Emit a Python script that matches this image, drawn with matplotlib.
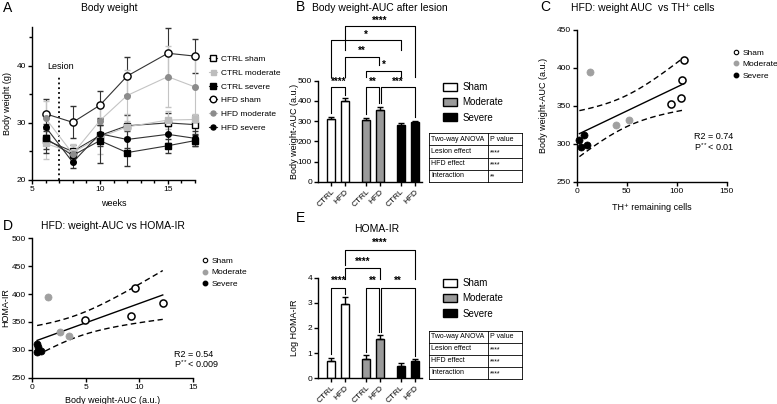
import numpy as np
import matplotlib
matplotlib.use("Agg")
import matplotlib.pyplot as plt
from matplotlib.lines import Line2D
from matplotlib.patches import Patch

plt.rcParams['font.family'] = ['Liberation Sans', 'DejaVu Sans']
plt.rcParams['mathtext.fontset'] = 'custom'
plt.rcParams['mathtext.rm'] = 'Liberation Sans'
plt.rcParams['axes.linewidth'] = 1.0

# ---------------- data ----------------
weeks = [6, 8, 10, 12, 15, 17]
ctrl_sham = [27.0, 25.0, 27.8, 29.5, 30.0, 29.7]
ctrl_sham_err = [1.5, 1.2, 1.8, 1.9, 1.7, 1.6]
ctrl_moderate = [26.4, 24.8, 27.5, 29.3, 30.5, 30.6]
ctrl_moderate_err = [2.8, 1.5, 3.0, 2.2, 1.6, 0.9]
ctrl_severe = [27.3, 24.3, 26.9, 24.8, 26.0, 26.9]
ctrl_severe_err = [2.5, 1.2, 3.9, 2.4, 1.2, 1.0]
hfd_sham = [31.6, 30.1, 33.1, 38.2, 42.2, 41.7]
hfd_sham_err = [2.6, 2.8, 2.5, 3.3, 4.4, 3.0]
hfd_moderate = [30.8, 24.6, 30.4, 34.8, 38.1, 36.3]
hfd_moderate_err = [3.0, 1.5, 3.0, 4.5, 5.3, 5.0]
hfd_severe = [29.3, 23.1, 28.1, 27.1, 28.0, 27.3]
hfd_severe_err = [1.5, 1.0, 1.5, 1.5, 1.5, 1.3]
lesion_week = 7

bar_labels = ['CTRL', 'HFD', 'CTRL', 'HFD', 'CTRL', 'HFD']
lesion_groups = ['Sham', 'Moderate', 'Severe']
auc_means = [310, 400, 305, 357, 282, 295]
auc_err = [8, 12, 12, 15, 8, 6]
homa_means = [0.70, 2.95, 0.77, 1.55, 0.50, 0.70]
homa_err = [0.10, 0.27, 0.15, 0.17, 0.10, 0.07]

sham_auc = [410, 384, 360, 353]
moderate_auc = [394, 332, 325]
severe_auc = [311, 305, 298, 296]
sham_th = [107, 105, 104, 94]
moderate_th = [13, 52, 39]
severe_th = [7.3, 2.7, 10.7, 4.3]
sham_homa = [9.6, 12.2, 9.2, 4.9]
moderate_homa = [1.5, 2.6, 3.4]
severe_homa = [0.45, 0.5, 0.85, 0.45]

anova_header = ['Two-way ANOVA', 'P value']
anova_effects = ['Lesion effect', 'HFD effect', 'Interaction']
anova_b = ['****', '****', '**']
anova_e = ['****', '****', '****']

# significance brackets: (label, bar index left, bar index right, height, left leg end, right leg end)
sig_b = [('****', 0, 1, 467, 338, 428),
         ('**', 2, 3, 467, 335, 388),
         ('***', 3, 5, 467, 392, 318),
         ('*', 2, 4, 550, 517, 517),
         ('**', 1, 3, 619, 517, 578),
         ('*', 0, 4, 701, 517, 652),
         ('****', 1, 5, 771, 652, 517)]
sig_e = [('****', 0, 1, 3.61, 0.95, 3.35),
         ('**', 2, 3, 3.61, 1.05, 1.85),
         ('**', 3, 5, 3.61, 1.85, 0.90),
         ('****', 1, 3, 4.37, 3.93, 3.93),
         ('****', 1, 5, 5.12, 4.50, 3.93)]

W, H = 777, 404
fig = plt.figure(figsize=(W / 100, H / 100), dpi=100)


def ax_px(l, r, t, b):
    return fig.add_axes([l / W, 1 - b / H, (r - l) / W, (b - t) / H])


def ftext(x, y, s, **kw):
    fig.text(x / W, 1 - y / H, s, **kw)


def style(ax):
    for s in ['top', 'right']:
        ax.spines[s].set_visible(False)
    ax.tick_params(labelsize=6, width=1, length=3, direction='out', pad=1.5)
    ax.tick_params(which='minor', width=1, length=2)


# ---------------- Panel A ----------------
axA = ax_px(32, 195, 27, 180)
style(axA)
seriesA = [
    (ctrl_sham, ctrl_sham_err, 'CTRL sham', 's', 'white', 'black', '#333333', 4.5),
    (ctrl_moderate, ctrl_moderate_err, 'CTRL moderate', 's', '#bdbdbd', '#bdbdbd', '#c4c4c4', 4.0),
    (ctrl_severe, ctrl_severe_err, 'CTRL severe', 's', 'black', 'black', '#333333', 4.5),
    (hfd_sham, hfd_sham_err, 'HFD sham', 'o', 'white', 'black', '#333333', 5.2),
    (hfd_moderate, hfd_moderate_err, 'HFD moderate', 'o', '#8c8c8c', '#8c8c8c', '#c4c4c4', 4.0),
    (hfd_severe, hfd_severe_err, 'HFD severe', 'o', 'black', 'black', '#333333', 4.0),
]
handlesA = []
for y, e, lab, m, fc, ec, lc, ms in seriesA:
    cont = axA.errorbar(weeks, y, yerr=e, marker=m, mfc=fc, mec=ec, mew=1.0, color=lc,
                        ecolor=lc, lw=0.8, elinewidth=0.8, capsize=2, capthick=0.8, ms=ms)
    for art in cont.lines[:1] + tuple(cont.lines[1]) + tuple(cont.lines[2]):
        if art is not None:
            art.set_clip_on(False)
    handlesA.append(Line2D([], [], marker=m, mfc=fc, mec=ec, mew=1.0, color=lc, lw=0.8, ms=ms * 0.9))
axA.plot([lesion_week, lesion_week], [20, 38], ls=':', color='black', lw=1.3)
axA.text(lesion_week + 0.1, 39.9, 'Lesion', fontsize=6.5, ha='center', va='center')
axA.set_xlim(5, 17)
axA.set_ylim(20, 46.8)
axA.set_xticks([5, 10, 15])
axA.set_xticks(range(5, 18), minor=True)
axA.set_yticks([20, 30, 40])
axA.set_yticks([25, 35, 45], minor=True)
axA.set_xlabel('weeks', fontsize=6.5)
axA.set_ylabel('Body weight (g)', fontsize=6.5)
axA.xaxis.set_label_coords(0.5, -0.124)
axA.yaxis.set_label_coords(-0.125, 0.5)
fig.legend(handlesA, [s[2] for s in seriesA], loc='upper left', bbox_to_anchor=(209 / W, 1 - 55 / H),
           frameon=False, fontsize=6, handlelength=1.0, handletextpad=0.5, labelspacing=0.72,
           borderpad=0, borderaxespad=0)
ftext(3, 8, 'A', fontsize=10, va='center', ha='left')
ftext(109, 8, 'Body weight', fontsize=7.5, va='center', ha='center')

# ---------------- bar helpers ----------------
pos = [0, 1, 2.5, 3.5, 5, 6]
fills = ['white', 'white', '#9a9a9a', '#9a9a9a', 'black', 'black']


def bars(ax, means, errs, sig, star_off):
    ax.bar(pos, means, width=0.57, color=fills, edgecolor='black', lw=1.0, zorder=2)
    ax.errorbar(pos, means, yerr=[np.zeros(len(errs)), errs], fmt='none', ecolor='black',
                elinewidth=1.0, capsize=2, capthick=1.0, zorder=3)
    ax.set_xticks(pos)
    ax.set_xticklabels(bar_labels, rotation=45, ha='right', rotation_mode='anchor', fontsize=6)
    ax.set_xlim(-0.93, 6.5)
    for lab, i, j, h, b1, b2 in sig:
        x1, x2 = pos[i], pos[j]
        if (lab, i, j) in [('**', 2, 3), ('**', 1, 3)]:
            x2 -= 0.08
        if i == 3:
            x1 += 0.08
        ax.plot([x1, x1, x2, x2], [b1, h, h, b2], color='black', lw=0.8, clip_on=False)
        ax.text((x1 + x2) / 2, h + star_off, lab, ha='center', va='center', fontsize=7,
                fontweight='bold', clip_on=False)


def legend_bars(x, y):
    hs = [Patch(facecolor=c, edgecolor='black', lw=1.0) for c in ['white', '#9a9a9a', 'black']]
    fig.legend(hs, lesion_groups, loc='upper left', bbox_to_anchor=(x / W, 1 - y / H), frameon=False,
               fontsize=7, handlelength=1.4, handleheight=0.9, handletextpad=0.6, labelspacing=0.55,
               borderpad=0, borderaxespad=0)


def table(l, r, t, b, split, rows):
    ax = ax_px(l, r, t, b)
    ax.set_xlim(l, r)
    ax.set_ylim(b, t)
    ax.axis('off')
    n = len(rows)
    ys = np.linspace(t, b, n + 1)
    for yy in ys:
        ax.plot([l, r], [yy, yy], color='black', lw=0.6, clip_on=False)
    for xx in [l, split, r]:
        ax.plot([xx, xx], [t, b], color='black', lw=0.6, clip_on=False)
    for k, (a, c) in enumerate(rows):
        yc = (ys[k] + ys[k + 1]) / 2
        ax.text(l + 2.2, yc, a, fontsize=5.0, va='center', ha='left')
        ax.text(split + 2.2, yc + (1.3 if '*' in c else 0), c, fontsize=5.0, va='center', ha='left')


# ---------------- Panel B ----------------
axB = ax_px(318.3, 421.7, 80.7, 181.7)
style(axB)
bars(axB, auc_means, auc_err, sig_b, 27)
axB.set_ylim(0, 500)
axB.set_yticks(range(0, 501, 100))
axB.set_ylabel('Body weight-AUC (a.u.)', fontsize=6.5)
axB.yaxis.set_label_coords(-0.19, 0.5)
legend_bars(443, 82)
table(429, 522, 133.3, 181.7, 488, [tuple(anova_header)] + list(zip(anova_effects, anova_b)))
ftext(296, 7, 'B', fontsize=10, va='center', ha='left')
ftext(380, 8, 'Body weight-AUC after lesion', fontsize=7.5, va='center', ha='center')


# ---------------- regression helper ----------------
def fit_band(x, y, t=2.262):
    x = np.asarray(x, float)
    y = np.asarray(y, float)
    n = len(x)
    b, a = np.polyfit(x, y, 1)
    xs = np.linspace(x.min(), x.max(), 100)
    yhat = a + b * xs
    resid = y - (a + b * x)
    s = np.sqrt((resid ** 2).sum() / (n - 2))
    se = s * np.sqrt(1 / n + (xs - x.mean()) ** 2 / ((x - x.mean()) ** 2).sum())
    return xs, yhat, yhat - t * se, yhat + t * se


def scatter_panel(ax, xs_list, ys_list):
    ax.scatter(xs_list[0], ys_list[0], s=26, facecolor='white', edgecolor='black', lw=1.1, zorder=3,
               clip_on=False)
    ax.scatter(xs_list[1], ys_list[1], s=26, facecolor='#a0a0a0', edgecolor='#a0a0a0', lw=0.5, zorder=3,
               clip_on=False)
    ax.scatter(xs_list[2], ys_list[2], s=26, facecolor='black', edgecolor='black', lw=0.5, zorder=3,
               clip_on=False)
    xa = np.concatenate([np.asarray(v, float) for v in xs_list])
    ya = np.concatenate([np.asarray(v, float) for v in ys_list])
    xs, yh, lo, hi = fit_band(xa, ya)
    ax.plot(xs, yh, color='black', lw=1.0)
    ax.plot(xs, lo, color='black', lw=1.0, ls=(0, (4, 2.5)))
    ax.plot(xs, hi, color='black', lw=1.0, ls=(0, (4, 2.5)))


def scatter_legend(x, y):
    hs = [Line2D([], [], ls='', marker='o', mfc='white', mec='black', ms=3.2, mew=0.8),
          Line2D([], [], ls='', marker='o', mfc='#a0a0a0', mec='#a0a0a0', ms=3.2),
          Line2D([], [], ls='', marker='o', mfc='black', mec='black', ms=3.2)]
    fig.legend(hs, lesion_groups, loc='upper left', bbox_to_anchor=(x / W, 1 - y / H), frameon=False,
               fontsize=6, handlelength=0.6, handletextpad=0.5, labelspacing=0.45,
               borderpad=0, borderaxespad=0)


# ---------------- Panel C ----------------
axC = ax_px(576.7, 726.7, 30, 181.7)
style(axC)
scatter_panel(axC, [sham_th, moderate_th, severe_th], [sham_auc, moderate_auc, severe_auc])
axC.set_xlim(0, 150)
axC.set_ylim(250, 450)
axC.set_xticks([0, 50, 100, 150])
axC.set_yticks(range(250, 451, 50))
axC.set_xlabel('TH\u207a remaining cells', fontsize=6.5)
axC.set_ylabel('Body weight-AUC (a.u.)', fontsize=6.5)
axC.xaxis.set_label_coords(0.5, -0.14)
axC.yaxis.set_label_coords(-0.19, 0.5)
axC.text(0.785, 0.3, 'R2 = 0.74', transform=axC.transAxes, fontsize=6.5, va='center')
axC.text(0.785, 0.23, 'P$^{**}$< 0.01', transform=axC.transAxes, fontsize=6.5, va='center')
scatter_legend(733, 49)
ftext(540, 7, 'C', fontsize=10, va='center', ha='left')
ftext(643, 8, 'HFD: weight AUC  vs TH\u207a cells', fontsize=7.5, va='center', ha='center')

# ---------------- Panel D ----------------
axD = ax_px(32.3, 192.7, 238.3, 377.7)
style(axD)
scatter_panel(axD, [sham_homa, moderate_homa, severe_homa], [sham_auc, moderate_auc, severe_auc])
axD.set_xlim(0, 15)
axD.set_ylim(250, 500)
axD.set_xticks([0, 5, 10, 15])
axD.set_yticks(range(250, 501, 50))
axD.set_xlabel('Body weight-AUC (a.u.)', fontsize=6.5)
axD.set_ylabel('HOMA-IR', fontsize=6.5)
axD.xaxis.set_label_coords(0.5, -0.13)
axD.yaxis.set_label_coords(-0.139, 0.5)
axD.text(0.885, 0.17, 'R2 = 0.54', transform=axD.transAxes, fontsize=6.5, va='center')
axD.text(0.885, 0.095, 'P$^{**}$< 0.009', transform=axD.transAxes, fontsize=6.5, va='center')
scatter_legend(202, 257)
ftext(3, 226, 'D', fontsize=10, va='center', ha='left')
ftext(113, 226, 'HFD: weight-AUC vs HOMA-IR', fontsize=7.5, va='center', ha='center')

# ---------------- Panel E ----------------
axE = ax_px(318.3, 421.7, 277.7, 378.3)
style(axE)
bars(axE, homa_means, homa_err, sig_e, 0.25)
axE.set_ylim(0, 4)
axE.set_yticks(range(0, 5))
axE.set_ylabel('Log HOMA-IR', fontsize=6.5)
axE.yaxis.set_label_coords(-0.19, 0.5)
legend_bars(443, 278)
table(429, 522, 330.7, 379, 488, [tuple(anova_header)] + list(zip(anova_effects, anova_e)))
ftext(296, 218, 'E', fontsize=10, va='center', ha='left')
ftext(377, 229, 'HOMA-IR', fontsize=7.5, va='center', ha='center')

fig.savefig('out.png', dpi=100)
